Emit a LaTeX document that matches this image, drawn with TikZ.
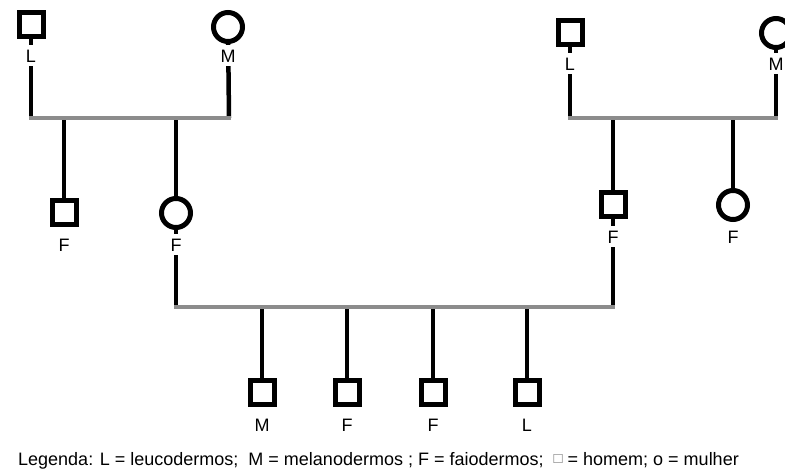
\documentclass[tikz,border=0pt]{standalone}
\usepackage{fontspec}
\setmainfont{Liberation Sans}
\usetikzlibrary{backgrounds}
\begin{document}
\begin{tikzpicture}[x=1pt,y=-1pt,
  sq/.style={draw, line width=5pt, minimum size=24pt, inner sep=0pt, fill=white},
  ci/.style={draw, circle, line width=5pt, minimum size=29pt, inner sep=0pt, fill=white},
  lab/.style={fill=white, font=\fontsize{18}{18}\selectfont, inner sep=0pt, text height=13pt, text depth=0pt, minimum height=21pt, minimum width=15pt},
  bl/.style={line width=4.5pt, draw=black},
  gl/.style={line width=4pt, draw=black!45}]
\useasboundingbox (0,0) rectangle (785,470);
% top-left parents
\node[sq] (p1) at (31,25) {};
\node[lab] (p1l) at (31,56) {L};
\node[ci] (p2) at (228,27) {};
\node[lab] (p2l) at (228,56) {M};
\coordinate (b1a) at (31,118);
\coordinate (b1b) at (229,118);
% top-left children
\node[sq] (c1) at (64,213) {};
\node[lab] (c1l) at (64,245) {F};
\node[ci] (c2) at (176,213) {};
\node[lab] (c2l) at (176,245) {F};
\coordinate (c1t) at (64,118);
\coordinate (c2t) at (176,118);
% top-right parents
\node[sq] (p3) at (570,33) {};
\node[lab] (p3l) at (570,64) {L};
\node[ci] (p4) at (776,33) {};
\node[lab] (p4l) at (776,64) {M};
\coordinate (b3a) at (570,118);
\coordinate (b3b) at (776,118);
% top-right children
\node[sq] (c3) at (613,205) {};
\node[lab] (c3l) at (613,237) {F};
\node[ci] (c4) at (733,205) {};
\node[lab] (c4l) at (733,237) {F};
\coordinate (c3t) at (613,118);
\coordinate (c4t) at (733,118);
% bottom bar
\coordinate (b2a) at (176,307);
\coordinate (b2b) at (613,307);
% grandchildren
\node[sq] (g1) at (262,393) {};
\node[lab] (g1l) at (262,425) {M};
\node[sq] (g2) at (347,393) {};
\node[lab] (g2l) at (347,425) {F};
\node[sq] (g3) at (433,393) {};
\node[lab] (g3l) at (433,425) {F};
\node[sq] (g4) at (527,393) {};
\node[lab] (g4l) at (527,425) {L};
\coordinate (g1t) at (262,307);
\coordinate (g2t) at (347,307);
\coordinate (g3t) at (433,307);
\coordinate (g4t) at (527,307);
% legend
\node[anchor=base west, inner sep=0pt, font=\fontsize{18}{18}\selectfont] (leg) at (18,465)
  {Legenda: L = leucodermos;\ \ M = melanodermos ; F = faiodermos;\ \ \raisebox{1.5pt}{\fontsize{15}{15}\selectfont\color{black!55}□} = homem; o = mulher};
\begin{scope}[on background layer]
  \draw[bl] (p1.center) -- (b1a);
  \draw[bl] (p2.center) -- (b1b);
  \draw[bl] (c1t) -- (c1.center);
  \draw[bl] (c2t) -- (c2.center);
  \draw[bl] (c2.center) -- (b2a);
  \draw[bl] (p3.center) -- (b3a);
  \draw[bl] (p4.center) -- (b3b);
  \draw[bl] (c3t) -- (c3.center);
  \draw[bl] (c3.center) -- (b2b);
  \draw[bl] (c4t) -- (c4.center);
  \draw[bl] (g1t) -- (g1.center);
  \draw[bl] (g2t) -- (g2.center);
  \draw[bl] (g3t) -- (g3.center);
  \draw[bl] (g4t) -- (g4.center);
  \draw[gl] ([xshift=-2pt]b1a) -- ([xshift=2pt]b1b);
  \draw[gl] ([xshift=-2pt]b3a) -- ([xshift=2pt]b3b);
  \draw[gl] ([xshift=-2pt]b2a) -- ([xshift=2pt]b2b);
\end{scope}
\end{tikzpicture}
\end{document}
